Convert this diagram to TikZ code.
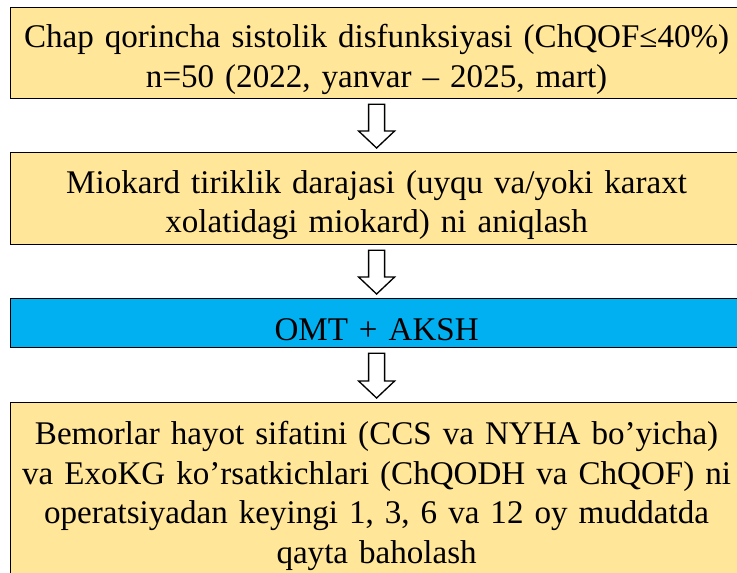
\documentclass[tikz,border=0pt]{standalone}
\usepackage{fontspec}
\setmainfont{Liberation Serif}
\usetikzlibrary{calc}
\definecolor{boxgold}{HTML}{FFE699}
\definecolor{boxblue}{HTML}{00B0F0}
% hollow block arrow from the bottom of one box to the top of the next
\newcommand{\hollowarrow}[2]{%
  \draw[hollow] ($(#1.south)+(-8,5)$) -- ($(#1.south)+(8,5)$)
    -- ($(#2.north)+(8,-21)$) -- ($(#2.north)+(18,-21)$)
    -- ($(#2.north)+(0,-4)$)
    -- ($(#2.north)+(-18,-21)$) -- ($(#2.north)+(-8,-21)$) -- cycle;}

\begin{document}
\begin{tikzpicture}[
  x=0.75pt, y=-0.75pt,
  font=\fontsize{24.8pt}{29.8pt}\selectfont,
  box/.style={draw,line width=0.9pt,fill=boxgold,align=center,anchor=north west,
              text width=545pt,inner xsep=2pt,inner ysep=0pt,minimum width=549pt,
              execute at begin node={\rule{0pt}{27pt}}},
  hollow/.style={draw,line width=1pt,fill=white,line join=miter},
]
\useasboundingbox (0,0) rectangle (737,572);
\clip (0,0) rectangle (737,572);
% ----- boxes
\node[box,minimum height=68.25pt] (cohort) at (10,7)
  {Chap qorincha sistolik disfunksiyasi (ChQOF≤40\%)\\n=50 (2022, yanvar – 2025, mart)};
\node[box,minimum height=69pt] (viab) at (10,152)
  {Miokard tiriklik darajasi (uyqu va/yoki karaxt\\xolatidagi miokard) ni aniqlash};
\node[box,fill=boxblue,minimum height=36.75pt] (treat) at (10,298) {OMT + AKSH};
\node[box,minimum height=130.5pt] (followup) at (10,402)
  {Bemorlar hayot sifatini (CCS va NYHA bo’yicha)\\
   va ExoKG ko’rsatkichlari (ChQODH va ChQOF) ni\\
   operatsiyadan keyingi 1, 3, 6 va 12 oy muddatda\\
   qayta baholash};
% ----- arrows
\hollowarrow{cohort}{viab}
\hollowarrow{viab}{treat}
\hollowarrow{treat}{followup}
\end{tikzpicture}
\end{document}
